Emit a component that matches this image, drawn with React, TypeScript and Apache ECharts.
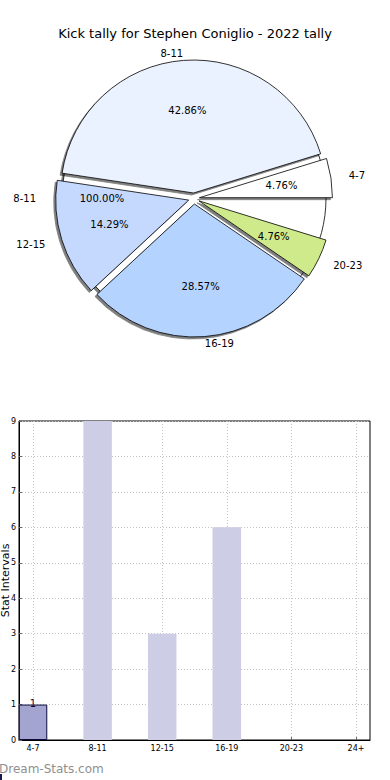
import React, { useEffect, useRef } from 'react';
import * as echarts from 'echarts';

const chartTitle = 'Kick tally for Stephen Coniglio - 2022 tally';
const pieNames = ['4-7', '8-11', '12-15', '16-19', '20-23', ''];
const pieValues = [1, 9, 3, 6, 1, 1];
const pieColors = ['#ffffff', '#eaf1ff', '#c5d9ff', '#b4d4ff', '#cfea8b', 'rgba(0,0,0,0)'];
const pieExploded = [true, true, true, true, true, false];
const pieNameGap = [18, 7, 17, 7, 16, 0];
const baseName = '8-11';
const baseValue = 1;
const barCategories = ['4-7', '8-11', '12-15', '16-19', '20-23', '24+'];
const barValues = [1, 9, 3, 6, 0, 0];
const barHighlight = [true, false, false, false, false, false];
const yMin = 0;
const yMax = 9;
const yStep = 1;
const yAxisName = 'Stat Intervals';
const watermark = 'Dream-Stats.com';

const FONT = 'DejaVu Sans';

export default function App() {
  const ref = useRef<HTMLDivElement>(null);
  useEffect(() => {
    if (!ref.current) return;
    const chart = echarts.init(ref.current, undefined, { renderer: 'svg' });
    const C = [194, 198.5];
    const R = 133;
    const shadow = {
      shadowColor: 'rgba(0,0,0,0.5)',
      shadowBlur: 1,
      shadowOffsetX: -2,
      shadowOffsetY: 2,
    };
    const pct = (p: any) => Number(p.percent).toFixed(2) + '%';
    const pieCommon: any = {
      type: 'pie',
      center: C,
      startAngle: 0,
      clockwise: false,
      avoidLabelOverlap: false,
      selectedMode: 'multiple',
      selectedOffset: 5.5,
      silent: true,
      emphasis: { disabled: true },
    };
    const transparent = { color: 'rgba(0,0,0,0)', borderWidth: 0 };
    const tickIdx = barCategories.map((_, i) => i);

    const option: any = {
      animation: false,
      textStyle: { fontFamily: FONT },
      title: {
        text: chartTitle,
        left: 'center',
        top: 22,
        textStyle: { fontFamily: FONT, fontWeight: 'normal', fontSize: 13, color: '#000' },
      },
      grid: {
        left: 19,
        right: 20,
        top: 421,
        bottom: 40,
        show: true,
        borderColor: '#000',
        borderWidth: 1,
        backgroundColor: 'transparent',
        outerBoundsMode: 'none',
      },
      xAxis: {
        type: 'value',
        min: -0.217,
        max: 5.217,
        axisLine: { show: true, onZero: false, lineStyle: { color: '#000', width: 1 } },
        axisTick: { show: true, inside: true, length: 3, customValues: tickIdx, lineStyle: { color: '#666' } },
        axisLabel: {
          customValues: tickIdx,
          formatter: (v: number) => barCategories[Math.round(v)] ?? '',
          fontSize: 8,
          color: '#000',
          margin: 4,
          fontFamily: FONT,
        },
        splitLine: { show: true, lineStyle: { type: [1, 2], color: '#c4c4c4', width: 1 } },
      },
      yAxis: {
        type: 'value',
        min: yMin,
        max: yMax,
        interval: yStep,
        name: yAxisName,
        nameLocation: 'middle',
        nameGap: 8,
        nameMoveOverlap: false,
        nameTextStyle: { fontSize: 11, color: '#000', fontFamily: FONT },
        axisLine: { show: true, onZero: false, lineStyle: { color: '#000', width: 1 } },
        axisTick: { show: true, inside: true, length: 3, lineStyle: { color: '#666' } },
        axisLabel: { fontSize: 8, color: '#000', margin: 3, fontFamily: FONT },
        splitLine: { show: true, lineStyle: { type: [1, 2], color: '#c4c4c4', width: 1 } },
      },
      series: [
        {
          ...pieCommon,
          radius: R - 1,
          label: { show: true, position: 'outside', formatter: '{b}', distanceToLabelLine: 0, fontSize: 10, color: '#000', fontFamily: FONT },
          labelLine: { show: false, length: 26, length2: 0 },
          data: [
            {
              name: baseName,
              value: baseValue,
              itemStyle: { color: '#ffffff', borderColor: '#000', borderWidth: 0.8, ...shadow },
            },
          ],
        },
        {
          ...pieCommon,
          radius: 178,
          itemStyle: transparent,
          label: { show: true, position: 'inside', formatter: pct, fontSize: 10, color: '#000', fontFamily: FONT },
          labelLine: { show: false },
          data: [{ name: baseName, value: baseValue }],
        },
        {
          ...pieCommon,
          radius: R,
          label: { show: true, position: 'outside', formatter: '{b}', distanceToLabelLine: 0, fontSize: 10, color: '#000', fontFamily: FONT },
          labelLine: { show: false, length: 10, length2: 0 },
          data: pieNames.map((n, i) => ({
            name: n,
            value: pieValues[i],
            selected: pieExploded[i],
            itemStyle: pieExploded[i]
              ? { color: pieColors[i], borderColor: '#000', borderWidth: 0.8, ...shadow }
              : transparent,
            label: { show: n !== '' },
            labelLine: { show: false, length: pieNameGap[i], length2: 0 },
          })),
        },
        {
          ...pieCommon,
          radius: 160,
          itemStyle: transparent,
          label: { show: true, position: 'inside', formatter: pct, fontSize: 10, color: '#000', fontFamily: FONT },
          labelLine: { show: false },
          data: pieNames.map((n, i) => ({
            name: n,
            value: pieValues[i],
            selected: pieExploded[i],
            label: { show: n !== '' },
          })),
        },
        {
          type: 'bar',
          barWidth: 28.5,
          silent: true,
          data: barValues.map((v, i) => ({
            value: [i, v],
            itemStyle: barHighlight[i]
              ? { color: '#a4a4d1', borderColor: '#0c0c3c', borderWidth: 1 }
              : { color: '#cdcde5', borderWidth: 0 },
            label: barHighlight[i]
              ? {
                  show: true,
                  position: 'top',
                  distance: -4,
                  formatter: (p: any) => String(p.value[1]),
                  fontSize: 10,
                  color: '#0c0c3c',
                  fontFamily: FONT,
                }
              : { show: false },
          })),
        },
      ],
      graphic: [
        {
          type: 'text',
          left: -1,
          top: 763,
          style: { text: watermark, fontSize: 12, fill: '#8f8f8f', fontFamily: FONT },
        },
        {
          type: 'rect',
          shape: { x: 0, y: 774, width: 2, height: 6 },
          style: { fill: '#1a1a4a' },
        },
      ],
    };
    chart.setOption(option);
    return () => chart.dispose();
  }, []);
  return (
    <div
      ref={ref}
      style={{ position: 'absolute', left: 0, top: 0, width: 390, height: 780, background: '#fff' }}
    />
  );
}
